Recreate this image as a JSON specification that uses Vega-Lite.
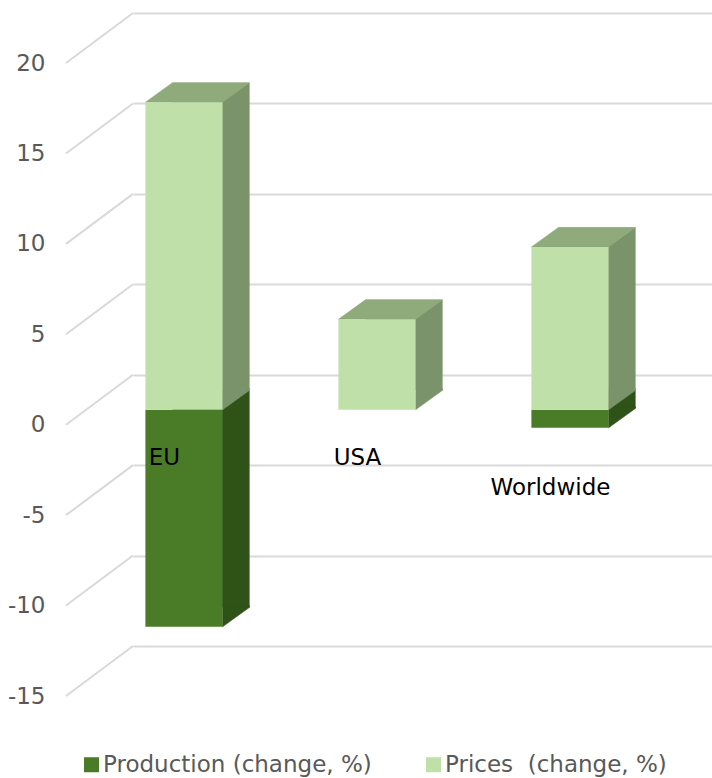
{
  "$schema": "https://vega.github.io/schema/vega-lite/v6.json",
  "width": 579,
  "height": 633,
  "autosize": {"type": "none"},
  "padding": {"left": 133, "top": 13, "right": 0, "bottom": 132},
  "background": "white",
  "config": {
    "view": {"stroke": null},
    "font": "DejaVu Sans",
    "axisY": {
      "grid": true, "gridColor": "#d9d9d9", "gridWidth": 2,
      "domain": false, "ticks": false,
      "labelOffset": 50, "labelPadding": 88,
      "labelFontSize": 23, "labelColor": "#595959", "labelFont": "DejaVu Sans",
      "labelExpr": "toString(datum.value)"
    }
  },
  "datasets": {
    "bars": [
      {"region": "EU", "series": "Production (change, %)", "value": -12},
      {"region": "USA", "series": "Production (change, %)", "value": 0},
      {"region": "Worldwide", "series": "Production (change, %)", "value": -1},
      {"region": "EU", "series": "Prices\u00a0 (change, %)", "value": 17},
      {"region": "USA", "series": "Prices\u00a0 (change, %)", "value": 5},
      {"region": "Worldwide", "series": "Prices\u00a0 (change, %)", "value": 9}
    ],
    "grid": [{"v": -15}, {"v": -10}, {"v": -5}, {"v": 0}, {"v": 5}, {"v": 10}, {"v": 15}, {"v": 20}]
  },
  "layer": [
    {
      "data": {"name": "grid"},
      "mark": {"type": "rule", "color": "#d9d9d9", "strokeWidth": 2, "x2Offset": -67, "y2Offset": 50},
      "encoding": {
        "x": {"datum": 0, "type": "quantitative", "scale": {"domain": [0, 1]}, "axis": null},
        "x2": {"datum": 0},
        "y": {"field": "v", "type": "quantitative", "scale": {"domain": [-15, 20], "nice": false, "zero": false}, "axis": {"values": [-15, -10, -5, 0, 5, 10, 15, 20], "title": null}},
        "y2": {"field": "v"}
      }
    },
    {
      "data": {"name": "bars"},
      "layer": [
        {
          "transform": [{"filter": {"and": [{"field": "series", "equal": "Production (change, %)"}, {"not": {"field": "value", "equal": 0}}]}}],
          "mark": {"type": "bar", "color": "#2f5219", "xOffset": -18.5, "yOffset": 15.5, "y2Offset": 15.5},
          "encoding": {
            "x": {"field": "region", "type": "nominal", "sort": null, "scale": {"domain": ["EU", "USA", "Worldwide"], "paddingInner": 0.6, "paddingOuter": 0.3}, "axis": null},
            "y": {"field": "value", "type": "quantitative", "scale": {"domain": [-15, 20], "nice": false, "zero": false}, "axis": {"values": [-15, -10, -5, 0, 5, 10, 15, 20], "title": null}},
            "y2": {"datum": 0}
          }
        },
        {
          "transform": [{"filter": {"and": [{"field": "series", "equal": "Production (change, %)"}, {"not": {"field": "value", "equal": 0}}]}}],
          "mark": {"type": "point", "shape": "M0.772,-0.42L0.772,0L1.312,-0.39L1.312,-0.42Z", "size": 10000, "filled": true, "color": "#2f5219", "stroke": "#2f5219", "strokeWidth": 0.6, "opacity": 1, "xOffset": -45.5, "yOffset": 35},
          "encoding": {
            "x": {"field": "region", "type": "nominal", "sort": null, "scale": {"domain": ["EU", "USA", "Worldwide"], "paddingInner": 0.6, "paddingOuter": 0.3}, "axis": null},
            "y": {"field": "value", "type": "quantitative", "scale": {"domain": [-15, 20], "nice": false, "zero": false}, "axis": {"values": [-15, -10, -5, 0, 5, 10, 15, 20], "title": null}}
          }
        },
        {
          "transform": [{"filter": {"field": "series", "equal": "Production (change, %)"}}],
          "mark": {"type": "bar", "xOffset": -45.5, "yOffset": 35, "y2Offset": 35},
          "encoding": {
            "x": {"field": "region", "type": "nominal", "sort": null, "scale": {"domain": ["EU", "USA", "Worldwide"], "paddingInner": 0.6, "paddingOuter": 0.3}, "axis": null},
            "y": {"field": "value", "type": "quantitative", "scale": {"domain": [-15, 20], "nice": false, "zero": false}, "axis": {"values": [-15, -10, -5, 0, 5, 10, 15, 20], "title": null}},
            "y2": {"datum": 0},
            "color": {
              "field": "series", "type": "nominal",
              "scale": {"domain": ["Production (change, %)", "Prices\u00a0 (change, %)"], "range": ["#4a7b27", "#c0e0aa"]},
              "legend": {
                "orient": "none", "legendX": -53, "legendY": 740, "direction": "horizontal",
                "title": null, "symbolType": "square", "symbolSize": 225, "symbolStrokeWidth": 0, "symbolOpacity": 1,
                "labelFontSize": 23, "labelFont": "DejaVu Sans", "labelColor": "#595959", "labelLimit": 400,
                "columnPadding": 50, "labelOffset": 0, "padding": 0
              }
            }
          }
        },
        {
          "transform": [{"filter": {"not": {"field": "series", "equal": "Production (change, %)"}}}],
          "mark": {"type": "bar", "color": "#7a936b", "xOffset": -18.5, "yOffset": 15.5, "y2Offset": 15.5},
          "encoding": {
            "x": {"field": "region", "type": "nominal", "sort": null, "scale": {"domain": ["EU", "USA", "Worldwide"], "paddingInner": 0.6, "paddingOuter": 0.3}, "axis": null},
            "y": {"field": "value", "type": "quantitative", "scale": {"domain": [-15, 20], "nice": false, "zero": false}, "axis": {"values": [-15, -10, -5, 0, 5, 10, 15, 20], "title": null}},
            "y2": {"datum": 0}
          }
        },
        {
          "transform": [{"filter": {"not": {"field": "series", "equal": "Production (change, %)"}}}],
          "mark": {"type": "point", "shape": "M0.772,-0.42L0.772,0L1.312,-0.39L1.312,-0.42Z", "size": 10000, "filled": true, "color": "#7a936b", "stroke": "#7a936b", "strokeWidth": 0.6, "opacity": 1, "xOffset": -45.5, "yOffset": 35},
          "encoding": {
            "x": {"field": "region", "type": "nominal", "sort": null, "scale": {"domain": ["EU", "USA", "Worldwide"], "paddingInner": 0.6, "paddingOuter": 0.3}, "axis": null},
            "y": {"datum": 0, "type": "quantitative", "scale": {"domain": [-15, 20], "nice": false, "zero": false}, "axis": {"values": [-15, -10, -5, 0, 5, 10, 15, 20], "title": null}}
          }
        },
        {
          "transform": [{"filter": {"not": {"field": "series", "equal": "Production (change, %)"}}}],
          "mark": {"type": "point", "shape": "M-0.772,0L0.772,0L1.312,-0.39L-0.232,-0.39Z", "size": 10000, "filled": true, "color": "#8fab7b", "stroke": "#8fab7b", "strokeWidth": 0.5, "opacity": 1, "xOffset": -45.5, "yOffset": 35},
          "encoding": {
            "x": {"field": "region", "type": "nominal", "sort": null, "scale": {"domain": ["EU", "USA", "Worldwide"], "paddingInner": 0.6, "paddingOuter": 0.3}, "axis": null},
            "y": {"field": "value", "type": "quantitative", "scale": {"domain": [-15, 20], "nice": false, "zero": false}, "axis": {"values": [-15, -10, -5, 0, 5, 10, 15, 20], "title": null}}
          }
        },
        {
          "transform": [{"filter": {"not": {"field": "series", "equal": "Production (change, %)"}}}],
          "mark": {"type": "bar", "xOffset": -45.5, "yOffset": 35, "y2Offset": 35},
          "encoding": {
            "x": {"field": "region", "type": "nominal", "sort": null, "scale": {"domain": ["EU", "USA", "Worldwide"], "paddingInner": 0.6, "paddingOuter": 0.3}, "axis": null},
            "y": {"field": "value", "type": "quantitative", "scale": {"domain": [-15, 20], "nice": false, "zero": false}, "axis": {"values": [-15, -10, -5, 0, 5, 10, 15, 20], "title": null}},
            "y2": {"datum": 0},
            "color": {"field": "series", "type": "nominal", "scale": {"domain": ["Production (change, %)", "Prices\u00a0 (change, %)"], "range": ["#4a7b27", "#c0e0aa"]}}
          }
        },
        {
          "transform": [{"filter": {"and": [{"not": {"field": "series", "equal": "Production (change, %)"}}, {"not": {"field": "region", "equal": "Worldwide"}}]}}],
          "mark": {"type": "text", "font": "DejaVu Sans", "fontSize": 23, "color": "#000000", "baseline": "middle", "align": "center", "xOffset": -65, "yOffset": 83},
          "encoding": {
            "x": {"field": "region", "type": "nominal", "sort": null, "scale": {"domain": ["EU", "USA", "Worldwide"], "paddingInner": 0.6, "paddingOuter": 0.3}, "axis": null},
            "y": {"datum": 0, "type": "quantitative", "scale": {"domain": [-15, 20], "nice": false, "zero": false}, "axis": {"values": [-15, -10, -5, 0, 5, 10, 15, 20], "title": null}},
            "text": {"field": "region"}
          }
        },
        {
          "transform": [{"filter": {"and": [{"not": {"field": "series", "equal": "Production (change, %)"}}, {"field": "region", "equal": "Worldwide"}]}}],
          "mark": {"type": "text", "font": "DejaVu Sans", "fontSize": 23, "color": "#000000", "baseline": "middle", "align": "center", "xOffset": -65, "yOffset": 113},
          "encoding": {
            "x": {"field": "region", "type": "nominal", "sort": null, "scale": {"domain": ["EU", "USA", "Worldwide"], "paddingInner": 0.6, "paddingOuter": 0.3}, "axis": null},
            "y": {"datum": 0, "type": "quantitative", "scale": {"domain": [-15, 20], "nice": false, "zero": false}, "axis": {"values": [-15, -10, -5, 0, 5, 10, 15, 20], "title": null}},
            "text": {"field": "region"}
          }
        }
      ]
    }
  ],
  "resolve": {"scale": {"x": "independent"}}
}
